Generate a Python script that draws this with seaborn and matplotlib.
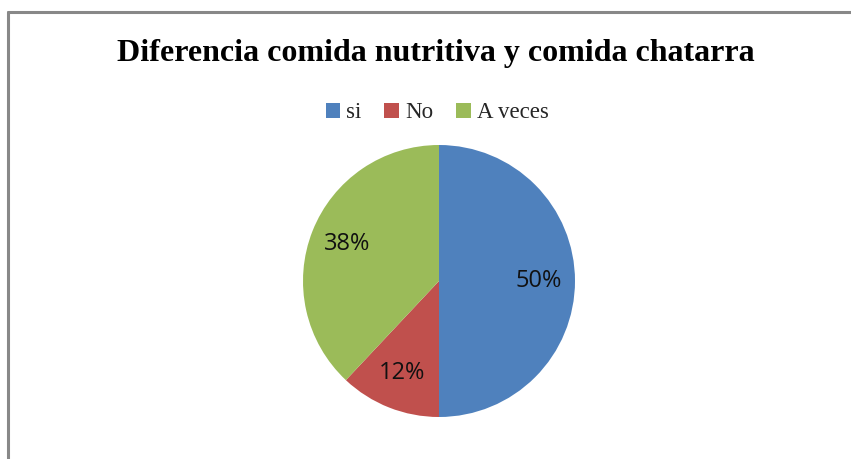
import matplotlib
matplotlib.use("Agg")
import matplotlib.pyplot as plt
import seaborn as sns
from matplotlib.patches import Patch

sns.set_theme(style="white")
plt.rcParams["font.family"] = ["Liberation Serif", "DejaVu Serif"]

# datos
categorias = ["si", "No", "A veces"]
valores = [50, 12, 38]
colores = ["#4F81BD", "#C0504D", "#9BBB59"]
titulo = "Diferencia comida nutritiva y comida chatarra"

W, H = 851, 459
fig = plt.figure(figsize=(W / 100, H / 100), dpi=100)
fig.patch.set_facecolor("white")

# borde del grafico (izquierda y arriba)
fig.add_artist(plt.Line2D([8 / W, 8 / W], [0, 1 - 12 / H], color="#888888", lw=2.2))
fig.add_artist(plt.Line2D([8 / W, 1], [1 - 12 / H, 1 - 12 / H], color="#888888", lw=2.2))

cx, cy, r = 439, 281, 136
ax = fig.add_axes([(cx - r) / W, (H - cy - r) / H, 2 * r / W, 2 * r / H])
wedges, textos, autotextos = ax.pie(
    valores, colors=colores, startangle=90, counterclock=False,
    autopct="%1.0f%%", pctdistance=0.73,
    wedgeprops={"linewidth": 0},
    textprops={"fontsize": 17, "family": ["Open Sans", "DejaVu Sans"], "color": "#111111"},
)
ax.set_xlim(-1, 1)
ax.set_ylim(-1, 1)
ax.set_aspect("equal")

fig.text(436 / W, 1 - 53 / H, titulo, ha="center", va="center",
         fontsize=23, fontweight="bold", color="black")

handles = [Patch(facecolor=c, edgecolor="none") for c in colores]
fig.legend(handles, categorias, loc="center", bbox_to_anchor=(437 / W, 1 - 113 / H),
           ncol=3, frameon=False, fontsize=16.5, handlelength=0.65, handleheight=0.65,
           handletextpad=0.25, columnspacing=1.0)

fig.savefig("out.png", dpi=100, facecolor="white")
